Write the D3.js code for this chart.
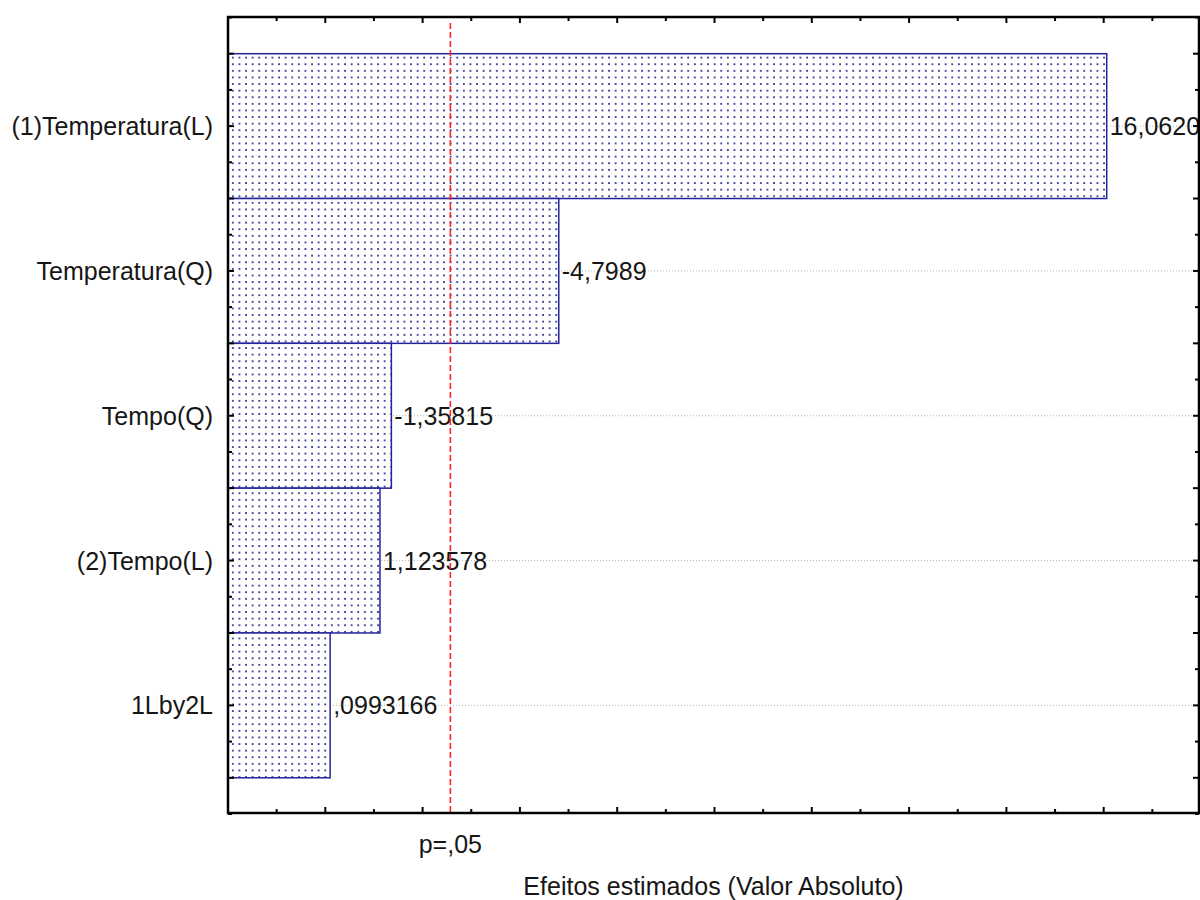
<!DOCTYPE html>
<html>
<head>
<meta charset="utf-8">
<script src="https://cdn.jsdelivr.net/npm/d3@7"></script>
<style>
  html, body { margin: 0; padding: 0; background: #fff; }
  svg text { font-family: "Liberation Sans", Arial, sans-serif; fill: #161616; }
</style>
</head>
<body>
<svg id="chart" width="1200" height="900"></svg>
<script>
// Pareto chart of standardized effects
const factors = ["(1)Temperatura(L)", "Temperatura(Q)", "Tempo(Q)", "(2)Tempo(L)", "1Lby2L"];
const effects = [16.0620, -4.7989, -1.35815, 1.123578, 0.0993166];
const effectLabels = ["16,0620", "-4,7989", "-1,35815", "1,123578", ",0993166"];
const criticalT = 2.5706;           // t(0.975; 5 df)
const criticalLabel = "p=,05";
const xTitle = "Efeitos estimados (Valor Absoluto)";

const svg = d3.select("#chart");
const frame = { left: 228, top: 17, right: 1199, bottom: 813 };
const fontSize = 25;

const x = d3.scaleLinear().domain([-2, 18]).range([frame.left, frame.right + 2]);
const y = d3.scaleLinear().domain([-0.75, factors.length - 0.25]).range([frame.top + 0.5, frame.bottom + 1]);

// dotted fill used by the bars
const defs = svg.append("defs");
const pat = defs.append("pattern")
  .attr("id", "dots")
  .attr("patternUnits", "userSpaceOnUse")
  .attr("width", 6.6).attr("height", 6.6)
  .attr("x", frame.left + 2).attr("y", 2);
pat.append("rect").attr("width", 6.6).attr("height", 6.6).attr("fill", "#fff");
pat.append("rect").attr("x", 2).attr("y", 2).attr("width", 1.7).attr("height", 1.7).attr("fill", "#1e1e8e");

// horizontal dotted grid at each factor
svg.append("g").selectAll("line")
  .data(factors)
  .join("line")
  .attr("x1", frame.left).attr("x2", frame.right)
  .attr("y1", (d, i) => y(i)).attr("y2", (d, i) => y(i))
  .attr("stroke", "#b4b4b4").attr("stroke-width", 1)
  .attr("stroke-dasharray", "1,2");

// bars: absolute effect size
svg.append("g").selectAll("rect")
  .data(effects)
  .join("rect")
  .attr("x", x.range()[0])
  .attr("y", (d, i) => y(i - 0.5))
  .attr("width", d => x(Math.abs(d)) - x.range()[0])
  .attr("height", (d, i) => y(i + 0.5) - y(i - 0.5))
  .attr("fill", "url(#dots)")
  .attr("stroke", "#23239a").attr("stroke-width", 1.5);

// value labels at bar ends
svg.append("g").selectAll("text")
  .data(effects)
  .join("text")
  .attr("x", d => x(Math.abs(d)) + 3)
  .attr("y", (d, i) => y(i))
  .attr("dy", "0.36em")
  .attr("font-size", fontSize)
  .text((d, i) => effectLabels[i]);

// factor names
svg.append("g").selectAll("text")
  .data(factors)
  .join("text")
  .attr("x", frame.left - 15)
  .attr("y", (d, i) => y(i))
  .attr("dy", "0.36em")
  .attr("text-anchor", "end")
  .attr("font-size", fontSize)
  .text(d => d);

// significance threshold
svg.append("line")
  .attr("x1", x(criticalT)).attr("x2", x(criticalT))
  .attr("y1", frame.top + 6).attr("y2", frame.bottom)
  .attr("stroke", "#ff2626").attr("stroke-width", 1.6)
  .attr("stroke-dasharray", "6,3");

svg.append("text")
  .attr("x", x(criticalT)).attr("y", 853)
  .attr("text-anchor", "middle")
  .attr("font-size", fontSize)
  .text(criticalLabel);

svg.append("text")
  .attr("x", (frame.left + frame.right) / 2).attr("y", 895)
  .attr("text-anchor", "middle")
  .attr("font-size", fontSize)
  .text(xTitle);

// frame with inward ticks on all four sides
const ink = "#000";
const axes = svg.append("g");
const xTicks = d3.range(-2, 18.001, 1);
const yTicks = d3.range(-0.75, factors.length - 0.25 + 0.001, 0.25);
const xLen = v => (v % 2 === 0 ? 6 : 4);
const yLen = v => (Math.abs(v * 2 - Math.round(v * 2)) < 1e-6 ? 6 : 4);

axes.selectAll(".tb").data(xTicks).join("line").attr("class", "tb")
  .attr("x1", d => x(d)).attr("x2", d => x(d))
  .attr("y1", frame.bottom).attr("y2", d => frame.bottom - xLen(d))
  .attr("stroke", ink).attr("stroke-width", 2);
axes.selectAll(".tt").data(xTicks).join("line").attr("class", "tt")
  .attr("x1", d => x(d)).attr("x2", d => x(d))
  .attr("y1", frame.top).attr("y2", d => frame.top + xLen(d))
  .attr("stroke", ink).attr("stroke-width", 2);
axes.selectAll(".tl").data(yTicks).join("line").attr("class", "tl")
  .attr("y1", d => y(d)).attr("y2", d => y(d))
  .attr("x1", frame.left).attr("x2", d => frame.left + yLen(d))
  .attr("stroke", ink).attr("stroke-width", 2);
axes.selectAll(".tr").data(yTicks).join("line").attr("class", "tr")
  .attr("y1", d => y(d)).attr("y2", d => y(d))
  .attr("x1", frame.right).attr("x2", d => frame.right - yLen(d))
  .attr("stroke", ink).attr("stroke-width", 2);

axes.append("rect")
  .attr("x", frame.left).attr("y", frame.top)
  .attr("width", frame.right - frame.left).attr("height", frame.bottom - frame.top)
  .attr("fill", "none").attr("stroke", ink).attr("stroke-width", 2.5);
</script>
</body>
</html>
